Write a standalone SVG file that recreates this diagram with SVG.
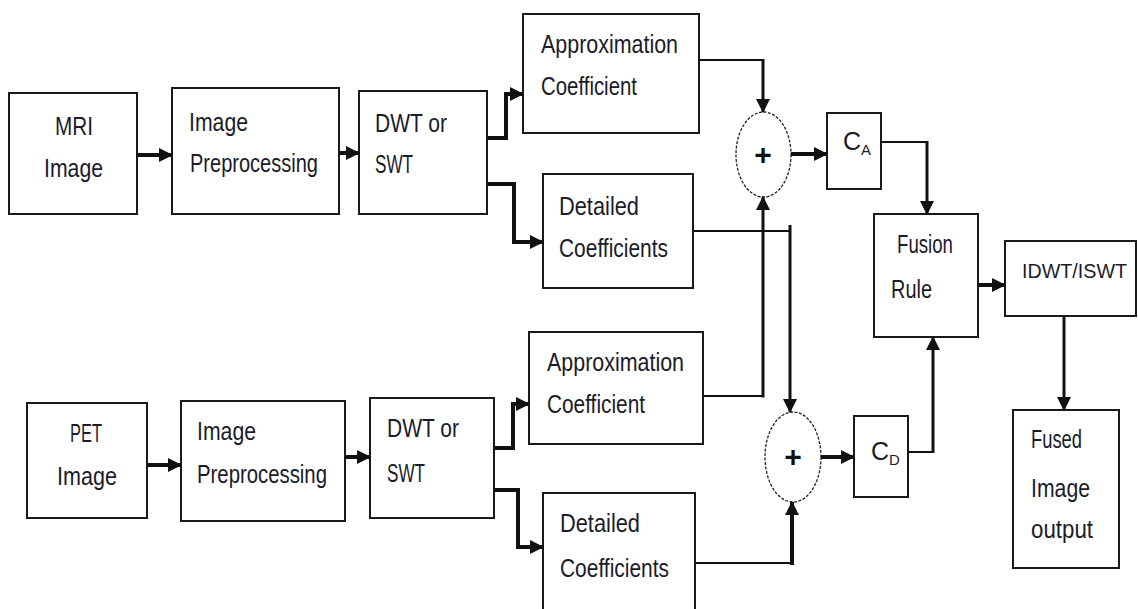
<svg xmlns="http://www.w3.org/2000/svg" width="1138" height="609" viewBox="0 0 1138 609">
<style>
.box{fill:#fff;stroke:#1a1a1a;stroke-width:2}
.sum{fill:#fff;stroke:#222;stroke-width:1.3;stroke-dasharray:3 1.5}
.t{font-family:"Liberation Sans",Arial,sans-serif;font-size:25px;fill:#1b1b2a}
.sub{font-size:15px}
.plus{font-family:"Liberation Sans",Arial,sans-serif;font-size:30px;font-weight:bold;fill:#111;text-anchor:middle}
.c{fill:none;stroke:#111;stroke-width:4}
.cm{fill:none;stroke:#111;stroke-width:3}
.ct{fill:none;stroke:#111;stroke-width:2}
</style>
<defs>
<marker id="ah" markerUnits="userSpaceOnUse" markerWidth="14" markerHeight="14" refX="13" refY="7" orient="auto" viewBox="0 0 14 14">
<path d="M0,0 L14,7 L0,14 z" fill="#111"/>
</marker>
</defs>

<g id="mri">
<rect class="box" x="9" y="93" width="128" height="121"/>
<text class="t" x="55" y="135" textLength="38" lengthAdjust="spacingAndGlyphs">MRI</text>
<text class="t" x="44" y="177" textLength="59" lengthAdjust="spacingAndGlyphs">Image</text>
</g>
<g id="prep1">
<rect class="box" x="172" y="88" width="167" height="126"/>
<text class="t" x="189" y="131" textLength="59" lengthAdjust="spacingAndGlyphs">Image</text>
<text class="t" x="190" y="172" textLength="128" lengthAdjust="spacingAndGlyphs">Preprocessing</text>
</g>
<g id="dwt1">
<rect class="box" x="359" y="91" width="128" height="123"/>
<text class="t" x="375" y="132" textLength="72" lengthAdjust="spacingAndGlyphs">DWT or</text>
<text class="t" x="375" y="173" textLength="38" lengthAdjust="spacingAndGlyphs">SWT</text>
</g>
<g id="approx1">
<rect class="box" x="523" y="14" width="176" height="119"/>
<text class="t" x="541" y="53" textLength="137" lengthAdjust="spacingAndGlyphs">Approximation</text>
<text class="t" x="541" y="95" textLength="96" lengthAdjust="spacingAndGlyphs">Coefficient</text>
</g>
<g id="detail1">
<rect class="box" x="543" y="174" width="150" height="114"/>
<text class="t" x="559" y="215" textLength="80" lengthAdjust="spacingAndGlyphs">Detailed</text>
<text class="t" x="559" y="257" textLength="109" lengthAdjust="spacingAndGlyphs">Coefficients</text>
</g>

<g id="pet">
<rect class="box" x="27" y="403" width="120" height="115"/>
<text class="t" x="70" y="442" textLength="32" lengthAdjust="spacingAndGlyphs">PET</text>
<text class="t" x="57" y="485" textLength="60" lengthAdjust="spacingAndGlyphs">Image</text>
</g>
<g id="prep2">
<rect class="box" x="181" y="401" width="164" height="120"/>
<text class="t" x="197" y="440" textLength="59" lengthAdjust="spacingAndGlyphs">Image</text>
<text class="t" x="197" y="483" textLength="130" lengthAdjust="spacingAndGlyphs">Preprocessing</text>
</g>
<g id="dwt2">
<rect class="box" x="370" y="398" width="124" height="120"/>
<text class="t" x="387" y="437" textLength="72" lengthAdjust="spacingAndGlyphs">DWT or</text>
<text class="t" x="387" y="482" textLength="38" lengthAdjust="spacingAndGlyphs">SWT</text>
</g>
<g id="approx2">
<rect class="box" x="529" y="332" width="174" height="112"/>
<text class="t" x="547" y="371" textLength="137" lengthAdjust="spacingAndGlyphs">Approximation</text>
<text class="t" x="547" y="413" textLength="98" lengthAdjust="spacingAndGlyphs">Coefficient</text>
</g>
<g id="detail2">
<rect class="box" x="543" y="493" width="152" height="125"/>
<text class="t" x="560" y="532" textLength="80" lengthAdjust="spacingAndGlyphs">Detailed</text>
<text class="t" x="560" y="577" textLength="109" lengthAdjust="spacingAndGlyphs">Coefficients</text>
</g>

<g id="sum1">
<ellipse class="sum" cx="763.5" cy="154.5" rx="27.5" ry="42.5"/>
<text class="plus" x="763" y="165">+</text>
</g>
<g id="sum2">
<ellipse class="sum" cx="793" cy="457" rx="28" ry="45"/>
<text class="plus" x="793" y="467">+</text>
</g>
<g id="ca">
<rect class="box" x="827" y="113" width="54" height="76"/>
<text class="t" x="843" y="150">C<tspan class="sub" dy="5">A</tspan></text>
</g>
<g id="cd">
<rect class="box" x="854" y="416" width="54" height="81"/>
<text class="t" x="871" y="460">C<tspan class="sub" dy="5">D</tspan></text>
</g>
<g id="fusion">
<rect class="box" x="874" y="214" width="104" height="123"/>
<text class="t" x="897" y="253" textLength="56" lengthAdjust="spacingAndGlyphs">Fusion</text>
<text class="t" x="891" y="298" textLength="41" lengthAdjust="spacingAndGlyphs">Rule</text>
</g>
<g id="idwt">
<rect class="box" x="1005" y="241" width="131" height="75"/>
<text class="t" x="1022" y="278" style="font-size:21px" textLength="105" lengthAdjust="spacingAndGlyphs">IDWT/ISWT</text>
</g>
<g id="fused">
<rect class="box" x="1013" y="410" width="106" height="158"/>
<text class="t" x="1031" y="448" textLength="51" lengthAdjust="spacingAndGlyphs">Fused</text>
<text class="t" x="1031" y="497" textLength="59" lengthAdjust="spacingAndGlyphs">Image</text>
<text class="t" x="1031" y="538" textLength="62" lengthAdjust="spacingAndGlyphs">output</text>
</g>

<g id="connectors">
<path class="c" d="M137,155 H172" marker-end="url(#ah)"/>
<path class="c" d="M339,153 H359" marker-end="url(#ah)"/>
<path class="c" d="M487,138 H506 V94 H523" marker-end="url(#ah)"/>
<path class="c" d="M487,184 H514 V242 H543" marker-end="url(#ah)"/>
<path class="ct" d="M699,60 H763"/>
<path class="cm" d="M763,59 V112" marker-end="url(#ah)"/>
<path class="ct" d="M693,231 H790"/>
<path class="cm" d="M790,225 V412" marker-end="url(#ah)"/>
<path class="ct" d="M703,396 H764"/>
<path class="cm" d="M763,397.5 V197" marker-end="url(#ah)"/>
<path class="c" d="M791,154 H827" marker-end="url(#ah)"/>
<path class="ct" d="M881,142 H927"/>
<path class="cm" d="M927,141 V214" marker-end="url(#ah)"/>
<path class="c" d="M147,465 H181" marker-end="url(#ah)"/>
<path class="c" d="M345,457 H370" marker-end="url(#ah)"/>
<path class="c" d="M494,448 H513 V404 H529" marker-end="url(#ah)"/>
<path class="c" d="M494,490 H518 V547 H543" marker-end="url(#ah)"/>
<path class="ct" d="M695,563 H792"/>
<path class="c" d="M792,565 V502" marker-end="url(#ah)"/>
<path class="c" d="M821,457 H854" marker-end="url(#ah)"/>
<path class="ct" d="M908,452 H933"/>
<path class="cm" d="M933,453 V337" marker-end="url(#ah)"/>
<path class="c" d="M978,285 H1005" marker-end="url(#ah)"/>
<path class="cm" d="M1064,316 V410" marker-end="url(#ah)"/>
</g>
</svg>
